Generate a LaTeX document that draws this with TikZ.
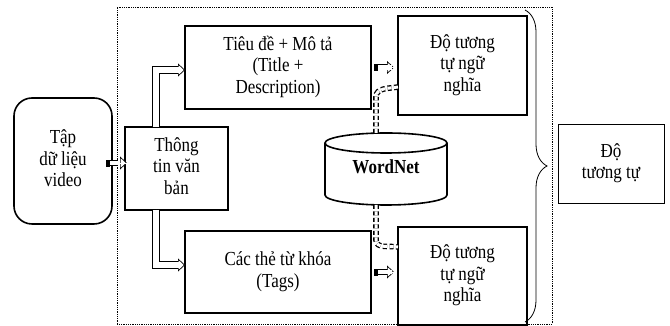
\documentclass[tikz,border=0pt]{standalone}
\usepackage{fontspec}
\usepackage{graphicx}
\setmainfont{Liberation Serif}
\usetikzlibrary{arrows.meta,decorations.pathreplacing,positioning}
\newcommand{\vt}[1]{\scalebox{1}[1.17]{\begin{tabular}{@{}c@{}}#1\end{tabular}}}
\tikzset{
  txt/.style={align=center,font=\fontsize{17}{18.4}\selectfont,inner sep=0pt,outer sep=0pt},
  box/.style={txt,draw,line width=1.6pt},
  harrow/.style 2 args={draw=none,line join=miter,
    postaction={draw,line width=#1,shorten >=6.6pt},
    postaction={draw=white,line width=0.4pt,-{Triangle[color=black,fill=white,length=7pt,width=13pt,line width=0.7pt]}},
    postaction={draw=white,line width=#2,shorten >=6pt}},
  hollow/.style={harrow={7.4pt}{6pt}},
  blockarrow/.style={harrow={6pt}{4.6pt},
    postaction={draw=white,line width=0.2pt,{Rectangle[color=black,fill=black,length=3pt,width=6pt]}-}},
  dashlink/.style={double=white,double distance=3pt,line width=1.3pt,dash pattern=on 4pt off 2.5pt},
  cyl/.style={line width=1.6pt,fill=white}
}
\begin{document}
\begin{tikzpicture}[x=1pt,y=1pt]
\useasboundingbox (0,0) rectangle (670,326);
% outer frame
\draw[densely dotted,line width=0.8pt] (117,2) rectangle (552,319);

\node[box,rounded corners=18pt,minimum width=98pt,minimum height=126pt] (data) at (63,165) {\vt{Tập\\dữ liệu\\video}};
\node[box,line width=1.2pt,minimum width=103pt,minimum height=83pt] (info) at (176.5,157.5) {\vt{Thông\\tin văn\\bản}};
\node[box,minimum width=186pt,minimum height=83pt] (title) at (278,258.5) {\vt{Tiêu đề + Mô tả\\(Title +\\Description)}};
\node[box,minimum width=186pt,minimum height=82pt] (tags) at (278,54) {\vt{Các thẻ từ khóa\\(Tags)}};
\node[box,minimum width=129pt,minimum height=99pt] (simA) at (462.5,260.5) {\vt{Độ tương\\tự ngữ\\nghĩa}};
\node[box,minimum width=129pt,minimum height=98pt] (simB) at (462.5,50) {\vt{Độ tương\\tự ngữ\\nghĩa}};
\node[box,line width=0.9pt,minimum width=106pt,minimum height=79pt] (sim) at (611,162.5) {\vt{Độ\\tương tự}};

% WordNet
\draw[cyl] (325,183) -- (325,131) arc[start angle=180,end angle=360,x radius=61pt,y radius=10pt] -- (447,183);
\draw[cyl] (386,183) ellipse [x radius=61pt,y radius=10pt];
\node[txt,minimum width=122pt,minimum height=72pt] (wn) at (386,157) {\vt{\bfseries WordNet}};

% arrows
\draw[blockarrow,shorten <=-6pt,shorten >=-2pt] ([yshift=-2pt]data.east) -- ([yshift=-2pt]data.east -| info.west);
\draw[hollow] ([xshift=-20.5pt]info.north) |- ([yshift=-2.5pt]title.west);
\draw[hollow] ([xshift=-20.5pt]info.south) |- ([yshift=7pt]tags.west);
\draw[blockarrow,shorten <=3pt,shorten >=4pt] (title.east) -- (title.east -| simA.west);
\draw[blockarrow,shorten <=3pt,shorten >=4pt] (tags.east) -- (tags.east -| simB.west);
\draw[dashlink] ([xshift=-10pt]wn.north) -- ++(0,36) to[out=90,in=190] ([yshift=-21.5pt]simA.west);
\draw[dashlink] ([xshift=-10pt]wn.south) -- ++(0,-35) to[out=-90,in=170] ([yshift=29pt]simB.west);

% brace
\draw[decorate,decoration={brace,amplitude=22pt},line width=0.8pt] (525,316) -- (525,4);
\end{tikzpicture}
\end{document}
